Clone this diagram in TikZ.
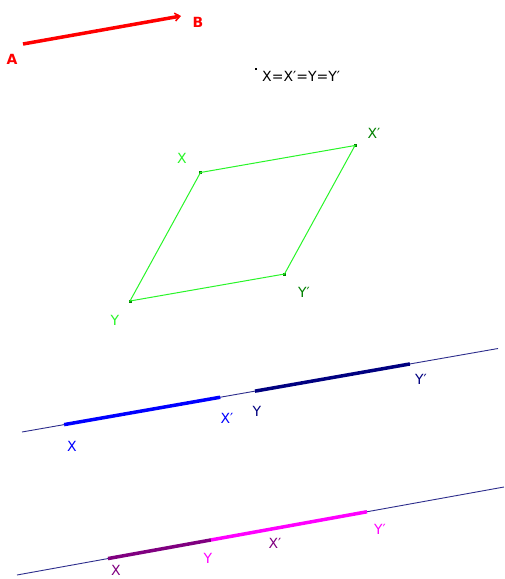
\documentclass[tikz,border=0pt]{standalone}
\usepackage{fontspec}
\setmainfont{DejaVu Sans}
\usetikzlibrary{arrows.meta, calc}

\definecolor{vecred}{RGB}{255,0,0}
\definecolor{rhgreen}{RGB}{40,245,40}
\definecolor{rhdark}{RGB}{0,128,0}
\definecolor{lineblue}{RGB}{45,45,140}
\definecolor{segblue}{RGB}{0,0,255}
\definecolor{segnavy}{RGB}{0,0,128}
\definecolor{segpurple}{RGB}{128,0,128}
\definecolor{segpink}{RGB}{255,0,255}

\begin{document}
\begin{tikzpicture}[x=1pt, y=-1pt,
    lbl/.style={font=\fontsize{14}{14}\selectfont, inner sep=0pt},
    thinline/.style={line width=0.9pt, lineblue},
    thickseg/.style={line width=3.5pt},
    vtx/.style={fill=rhdark, inner sep=0pt, minimum size=3pt}]
    \useasboundingbox (0,0) rectangle (504,579);

    % Vector AB
    \coordinate (A) at (23,44);
    \coordinate (B) at (181,16);
    \draw[line width=3.5pt, vecred, -{Straight Barb[length=5pt, width=8pt, line width=1.5pt]}] (A) -- (B);
    \node[lbl, vecred, font=\fontsize{14}{14}\selectfont\bfseries] (labA) at (12,59) {A};
    \node[lbl, vecred, font=\fontsize{14}{14}\selectfont\bfseries] (labB) at (198,22) {B};

    % Statement
    \node[fill=black, inner sep=0pt, minimum size=2pt] (dot) at (256,69) {};
    \node[lbl, anchor=west] (eq) at (262,76) {X=X′=Y=Y′};

    % Parallelogram
    \node[vtx] (X) at (200.5,172.5) {};
    \node[vtx] (Xp) at (355,145.5) {};
    \node[vtx] (Yp) at (284.5,274) {};
    \node[vtx] (Y) at (130,301) {};
    \draw[rhgreen, line width=1pt] (X.center) -- (Xp.center) -- (Yp.center) -- (Y.center) -- cycle;
    \node[lbl, rhgreen] (labX) at (182,158) {X};
    \node[lbl, rhdark] (labXp) at (374,133) {X′};
    \node[lbl, rhdark] (labYp) at (304,292) {Y′};
    \node[lbl, rhgreen] (labY) at (115,320) {Y};

    % First line
    \coordinate (L1a) at (22,432);
    \coordinate (L1b) at (498,348.5);
    \draw[thinline] (L1a) -- (L1b);
    \coordinate (P1) at ($(L1a)!0.0885!(L1b)$);
    \coordinate (P2) at ($(L1a)!0.4165!(L1b)$);
    \coordinate (P3) at ($(L1a)!0.4895!(L1b)$);
    \coordinate (P4) at ($(L1a)!0.815!(L1b)$);
    \draw[thickseg, segblue] (P1) -- (P2);
    \draw[thickseg, segnavy] (P3) -- (P4);
    \node[lbl, segblue] (lX1) at (72,446) {X};
    \node[lbl, segblue] (lXp1) at (227,418) {X′};
    \node[lbl, segnavy] (lY1) at (257,411) {Y};
    \node[lbl, segnavy] (lYp1) at (421,379) {Y′};

    % Second line
    \coordinate (L2a) at (17,575);
    \coordinate (L2b) at (504,487);
    \draw[thinline] (L2a) -- (L2b);
    \coordinate (Q1) at ($(L2a)!0.1869!(L2b)$);
    \coordinate (Q2) at ($(L2a)!0.3984!(L2b)$);
    \coordinate (Q3) at ($(L2a)!0.7187!(L2b)$);
    \draw[thickseg, segpurple] (Q1) -- (Q2);
    \draw[thickseg, segpink] (Q2) -- (Q3);
    \node[lbl, segpurple] (lX2) at (116,570) {X};
    \node[lbl, segpink] (lY2) at (208,558) {Y};
    \node[lbl, segpurple] (lXp2) at (275,543) {X′};
    \node[lbl, segpink] (lYp2) at (380,529) {Y′};
\end{tikzpicture}
\end{document}
